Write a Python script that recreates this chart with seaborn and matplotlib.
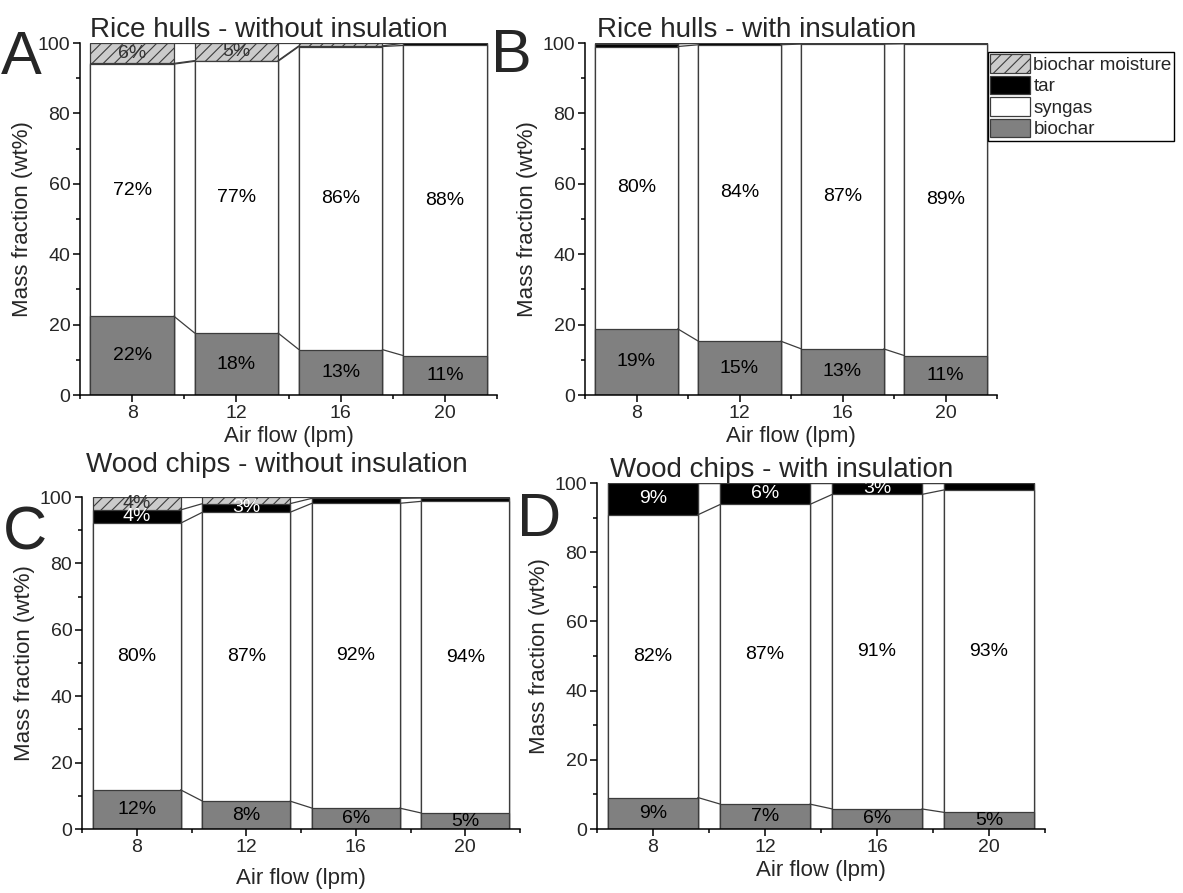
import pandas as pd
import matplotlib.pyplot as plt
import matplotlib.patches as mpatches
from matplotlib.ticker import MultipleLocator
import seaborn as sns

# Air flow (lpm) for each bar
air_flow = [8, 12, 16, 20]

# Rice hulls - without insulation (wt%)
rh_noins_biochar = [22.4, 17.6, 12.9, 11.2]
rh_noins_syngas = [71.6, 77.2, 86.1, 88.1]
rh_noins_tar = [0.2, 0.2, 0.2, 0.6]
rh_noins_moisture = [5.8, 5.0, 0.8, 0.1]

# Rice hulls - with insulation (wt%)
rh_ins_biochar = [18.8, 15.3, 13.1, 11.2]
rh_ins_syngas = [80.2, 84.2, 86.6, 88.6]
rh_ins_tar = [0.8, 0.4, 0.2, 0.1]
rh_ins_moisture = [0.2, 0.1, 0.1, 0.1]

# Wood chips - without insulation (wt%)
wc_noins_biochar = [11.8, 8.4, 6.3, 4.8]
wc_noins_syngas = [80.3, 87.0, 91.8, 93.9]
wc_noins_tar = [4.0, 2.6, 1.5, 1.0]
wc_noins_moisture = [3.9, 2.0, 0.4, 0.3]

# Wood chips - with insulation (wt%)
wc_ins_biochar = [9.1, 7.2, 5.8, 4.8]
wc_ins_syngas = [81.7, 86.6, 90.9, 93.2]
wc_ins_tar = [9.2, 6.2, 3.3, 2.0]
wc_ins_moisture = [0.0, 0.0, 0.0, 0.0]

sns.set_style("ticks")
plt.rcParams['font.family'] = ['Liberation Sans', 'DejaVu Sans']
plt.rcParams['hatch.color'] = '#4a4a4a'
plt.rcParams['hatch.linewidth'] = 0.8

EDGE = '#3c3c3c'
W, H = 1183, 893

styles = {
    'moisture': dict(fc='#cbcbcb', hatch='///', tc='#333333'),
    'tar': dict(fc='black', hatch=None, tc='white'),
    'syngas': dict(fc='white', hatch=None, tc='black'),
    'biochar': dict(fc='#808080', hatch=None, tc='black'),
}


def draw_panel(rect, biochar, syngas, tar, moisture, title, title_x, title_y, xpad=3):
    # rect = (left, right, top, bottom) in pixels
    ax = fig.add_axes([rect[0] / W, 1 - rect[3] / H, (rect[1] - rect[0]) / W, (rect[3] - rect[2]) / H])
    df = pd.DataFrame({'air': air_flow, 'biochar': biochar, 'syngas': syngas,
                       'tar': tar, 'moisture': moisture})
    # cumulative tops of each layer
    df['c_biochar'] = df['biochar']
    df['c_syngas'] = df['c_biochar'] + df['syngas']
    df['c_tar'] = df['c_syngas'] + df['tar']
    df['c_moisture'] = df['c_tar'] + df['moisture']

    # draw from the top layer down so every bar covers the one above it
    for seg in ['moisture', 'tar', 'syngas', 'biochar']:
        st = styles[seg]
        sns.barplot(data=df, x='air', y='c_' + seg, native_scale=True, width=0.8,
                    color=st['fc'], saturation=1, edgecolor=EDGE, linewidth=0.9,
                    hatch=st['hatch'], errorbar=None, ax=ax)

    # Origin-style connect lines between neighbouring bars
    half = 0.8 * 4 / 2
    for seg in ['biochar', 'syngas', 'tar', 'moisture']:
        y = df['c_' + seg].values
        for i in range(len(air_flow) - 1):
            ax.plot([air_flow[i] + half, air_flow[i + 1] - half], [y[i], y[i + 1]],
                    color=EDGE, lw=0.9, zorder=3)

    # percentage labels
    for seg in ['biochar', 'syngas', 'tar', 'moisture']:
        for x, v, top in zip(df['air'], df[seg], df['c_' + seg]):
            if v >= 2.5:
                ax.text(x, top - v / 2, f"{v:.0f}%", ha='center', va='center',
                        fontsize=14, color=styles[seg]['tc'], zorder=4)

    ax.set_xlim(6, 22)
    ax.set_ylim(0, 100)
    ax.set_xticks(air_flow)
    ax.set_xticklabels([str(a) for a in air_flow])
    ax.set_yticks(range(0, 101, 20))
    ax.xaxis.set_minor_locator(MultipleLocator(2))
    ax.yaxis.set_minor_locator(MultipleLocator(10))
    ax.tick_params(which='major', direction='out', length=5, width=1.1, pad=2,
                   labelsize=14, color='black')
    ax.tick_params(which='minor', direction='out', length=3, width=1.1, color='black')
    sns.despine(ax=ax)
    for sp in ['left', 'bottom']:
        ax.spines[sp].set_linewidth(1.1)
        ax.spines[sp].set_color('black')
    ax.set_xlabel('Air flow (lpm)', fontsize=16, labelpad=xpad)
    ax.set_ylabel('Mass fraction (wt%)', fontsize=16, labelpad=3)
    fig.text(rect[0] / W + title_x, 1 - title_y / H, title, ha='left', va='baseline',
             fontsize=20)
    return ax


fig = plt.figure(figsize=(W / 100, H / 100), dpi=100)

draw_panel((80, 497, 43, 395), rh_noins_biochar, rh_noins_syngas, rh_noins_tar,
           rh_noins_moisture, 'Rice hulls - without insulation', 10 / W, 37)
draw_panel((585, 997, 43, 395), rh_ins_biochar, rh_ins_syngas, rh_ins_tar,
           rh_ins_moisture, 'Rice hulls - with insulation', 12 / W, 37)
draw_panel((82, 520, 497, 829), wc_noins_biochar, wc_noins_syngas, wc_noins_tar,
           wc_noins_moisture, 'Wood chips - without insulation', 4 / W, 472, xpad=9)
draw_panel((597, 1045, 483, 829), wc_ins_biochar, wc_ins_syngas, wc_ins_tar,
           wc_ins_moisture, 'Wood chips - with insulation', 13 / W, 477)

# panel letters
for letter, x, y in [('A', 1, 74), ('B', 491, 72), ('C', 3, 549), ('D', 517, 536)]:
    fig.text(x / W, 1 - y / H, letter, fontsize=44, ha='left', va='baseline')

handles = [mpatches.Patch(facecolor=styles[s]['fc'], edgecolor=EDGE, hatch=styles[s]['hatch'],
                          linewidth=0.9) for s in ['moisture', 'tar', 'syngas', 'biochar']]
labels = ['biochar moisture', 'tar', 'syngas', 'biochar']
fig.legend(handles, labels, loc='upper left', bbox_to_anchor=(988 / W, 1 - 52 / H),
           fontsize=13.5, frameon=True, fancybox=False, edgecolor='black', framealpha=1,
           handlelength=2.1, handleheight=1.15, handletextpad=0.2, labelspacing=0.1,
           borderpad=0.12, borderaxespad=0)

fig.savefig('out.png', dpi=100)
